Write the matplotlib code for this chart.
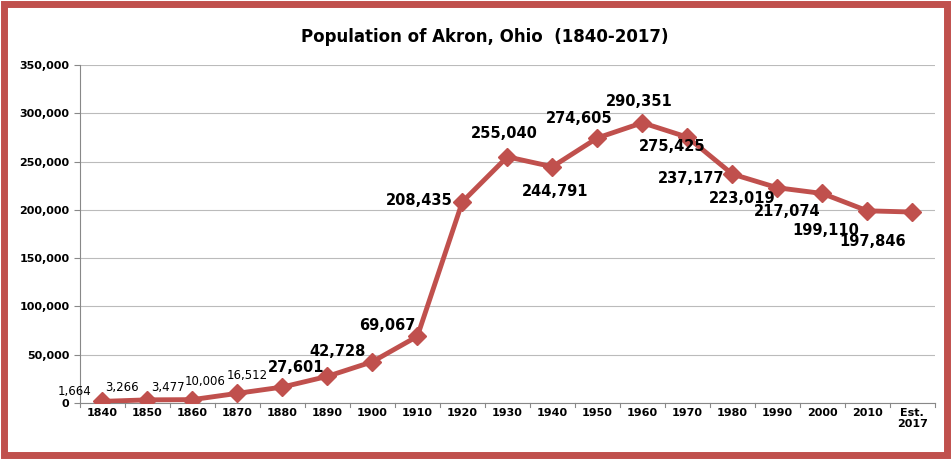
import matplotlib.pyplot as plt
from matplotlib.patches import Rectangle

years = ['1840', '1850', '1860', '1870', '1880', '1890', '1900', '1910', '1920', '1930',
         '1940', '1950', '1960', '1970', '1980', '1990', '2000', '2010', 'Est.\n2017']
population = [1664, 3266, 3477, 10006, 16512, 27601, 42728, 69067, 208435, 255040,
              244791, 274605, 290351, 275425, 237177, 223019, 217074, 199110, 197846]
# label offsets in pixels (dx, dy) from each point
offsets = [(-28, 10), (-25, 12), (-24, 12), (-32, 12), (-35, 12), (-31, 9), (-35, 10),
           (-30, 11), (-43, 1), (-3, 23), (3, -25), (-18, 19), (-3, 21), (-15, -9),
           (-41, -4), (-35, -11), (-35, -18), (-42, -20), (-40, -29)]

red = '#C0504D'
fig = plt.figure(figsize=(9.51, 4.59), dpi=100)
ax = fig.add_axes([0.084, 0.122, 0.899, 0.736])
x = list(range(len(years)))
ax.plot(x, population, color=red, lw=3.5, marker='D', ms=9, zorder=3)

for i, (xi, v, (dx, dy)) in enumerate(zip(x, population, offsets)):
    small = i < 5
    ax.annotate(f'{v:,}', (xi, v), xytext=(dx, dy), textcoords='offset pixels',
                ha='center', va='center', fontsize=8.5 if small else 10.5,
                fontweight='normal' if small else 'bold')

ax.set_xlim(-0.5, len(years) - 0.5)
ax.set_ylim(0, 350000)
ax.set_yticks(range(0, 350001, 50000))
ax.set_yticklabels(['0'] + [f'{v:,}' for v in range(50000, 350001, 50000)],
                   fontsize=8, fontweight='bold')
ax.set_xticks(x)
ax.set_xticklabels(years, fontsize=8, fontweight='bold', va='top')
ax.grid(axis='y', color='#BBBBBB', lw=0.8)
ax.set_axisbelow(True)
for s in ['top', 'right']:
    ax.spines[s].set_visible(False)
for s in ['left', 'bottom']:
    ax.spines[s].set_color('#888888')
ax.tick_params(axis='y', length=4, color='#888888')
ax.tick_params(axis='x', length=0)
for xi in range(len(years) + 1):
    ax.plot([xi - 0.5, xi - 0.5], [0, -4000], color='#888888', lw=0.8, clip_on=False)

fig.text(0.51, 0.92, 'Population of Akron, Ohio  (1840-2017)', ha='center', va='center',
         fontsize=12, fontweight='bold')
fig.patches.append(Rectangle((0.004, 0.008), 0.992, 0.984, transform=fig.transFigure,
                             fill=False, edgecolor=red, lw=5))
fig.savefig('out.png', dpi=100)
